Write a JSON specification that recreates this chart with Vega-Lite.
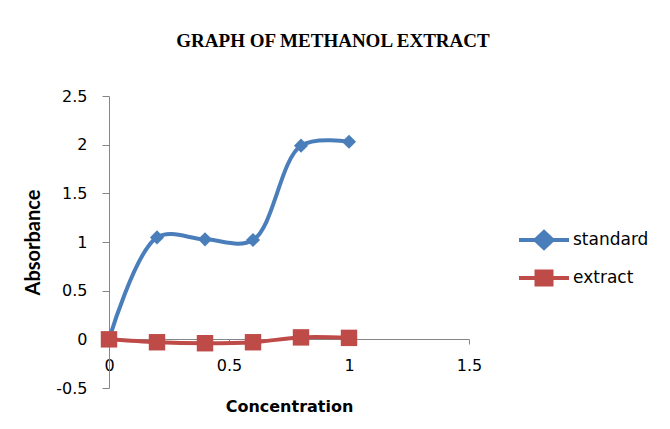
{
  "$schema": "https://vega.github.io/schema/vega-lite/v6.json",
  "width": 360,
  "height": 292,
  "autosize": "none",
  "padding": {"left": 109, "top": 96, "right": 201, "bottom": 41},
  "background": "white",
  "title": {
    "text": "GRAPH OF METHANOL  EXTRACT",
    "font": "Liberation Serif",
    "fontSize": 19,
    "fontWeight": "bold",
    "color": "#000000",
    "anchor": "middle",
    "dx": 44,
    "offset": 37
  },
  "config": {
    "view": {"stroke": null},
    "axis": {
      "grid": false,
      "domainColor": "#868686",
      "tickColor": "#868686",
      "labelFont": "DejaVu Sans",
      "labelFontSize": 16,
      "labelColor": "#000000",
      "labelFlush": false,
      "labelOverlap": false,
      "titleColor": "#000000"
    }
  },
  "data": {
    "values": [
      {"conc": 0, "abs": 0, "series": "standard"},
      {"conc": 0.2, "abs": 1.047, "series": "standard"},
      {"conc": 0.4, "abs": 1.027, "series": "standard"},
      {"conc": 0.6, "abs": 1.02, "series": "standard"},
      {"conc": 0.8, "abs": 1.99, "series": "standard"},
      {"conc": 1.0, "abs": 2.03, "series": "standard"},
      {"conc": 0, "abs": 0, "series": "extract"},
      {"conc": 0.2, "abs": -0.03, "series": "extract"},
      {"conc": 0.4, "abs": -0.04, "series": "extract"},
      {"conc": 0.6, "abs": -0.03, "series": "extract"},
      {"conc": 0.8, "abs": 0.02, "series": "extract"},
      {"conc": 1.0, "abs": 0.015, "series": "extract"}
    ]
  },
  "encoding": {
    "x": {
      "field": "conc",
      "type": "quantitative",
      "title": "Concentration",
      "scale": {"domain": [0, 1.5], "nice": false, "zero": false},
      "axis": {
        "values": [0, 0.5, 1, 1.5],
        "labelExpr": "'' + datum.value",
        "offset": -49,
        "tickSize": 5,
        "labelPadding": 13,
        "titleFont": "DejaVu Sans",
        "titleFontSize": 16,
        "titleFontWeight": "bold",
        "titlePadding": 25
      }
    },
    "y": {
      "field": "abs",
      "type": "quantitative",
      "title": "Absorbance",
      "scale": {"domain": [-0.5, 2.5], "nice": false, "zero": false},
      "axis": {
        "values": [-0.5, 0, 0.5, 1, 1.5, 2, 2.5],
        "labelExpr": "'' + datum.value",
        "tickSize": 7,
        "labelPadding": 15,
        "titleFont": "Lato",
        "titleFontSize": 20,
        "titleFontWeight": "bold",
        "titlePadding": 12
      }
    },
    "color": {
      "field": "series",
      "type": "nominal",
      "scale": {"domain": ["standard", "extract"], "range": ["#4A7EBB", "#BE4B48"]},
      "legend": {
        "title": null,
        "orient": "none",
        "legendX": 408,
        "legendY": 132,
        "symbolType": "M-2.5,0H2.5",
        "symbolSize": 400,
        "symbolStrokeWidth": 4,
        "symbolOffset": 15,
        "labelOffset": 17,
        "labelFont": "DejaVu Sans",
        "labelFontSize": 17,
        "labelColor": "#000000",
        "rowPadding": 7,
        "encode": {
          "symbols": {
            "update": {
              "shape": {"signal": "datum.value === 'standard' ? 'M-2.5,0H2.5M0,-0.8L0.85,0L0,0.8L-0.85,0Z' : 'M-2.5,0H2.5M-0.75,-0.65H0.75V0.65H-0.75Z'"},
              "fill": {"scale": "color", "field": "value"},
              "stroke": {"scale": "color", "field": "value"}
            }
          }
        }
      }
    }
  },
  "layer": [
    {
      "mark": {"type": "line", "interpolate": "catmull-rom", "strokeWidth": 4}
    },
    {
      "transform": [{"filter": "datum.series === 'standard'"}],
      "mark": {"type": "point", "filled": true, "opacity": 1, "shape": "diamond", "size": 200}
    },
    {
      "transform": [{"filter": "datum.series === 'extract'"}],
      "mark": {"type": "point", "filled": true, "opacity": 1, "shape": "square", "size": 270}
    }
  ]
}
